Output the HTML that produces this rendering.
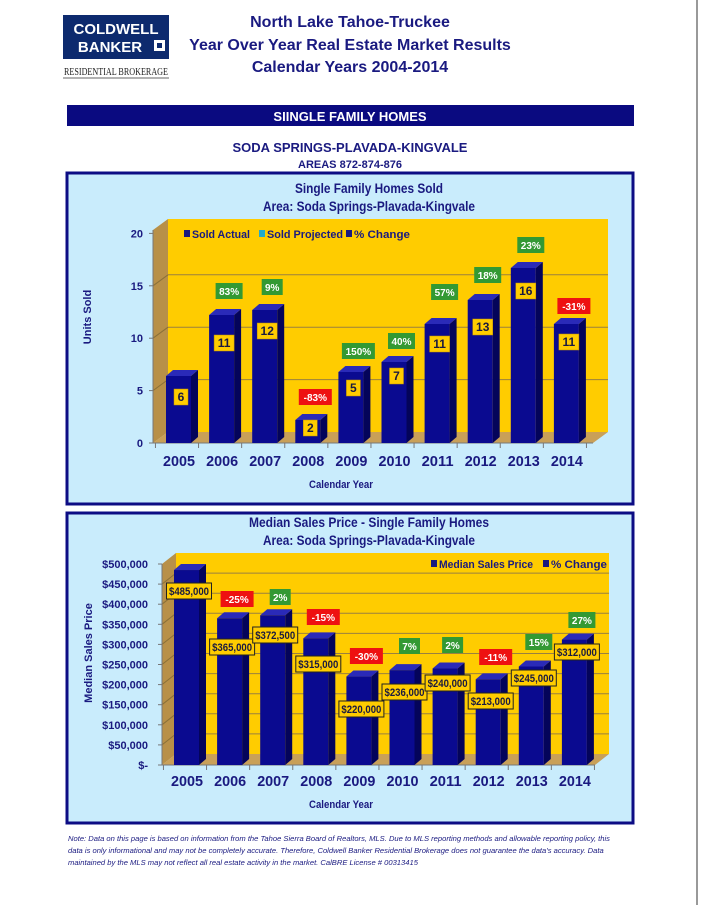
<!DOCTYPE html>
<html><head><meta charset="utf-8"><style>
html,body{margin:0;padding:0;background:#fff;width:701px;height:905px;overflow:hidden}
svg{display:block}
text{font-family:"Liberation Sans",sans-serif;font-weight:bold}
</style></head><body>
<svg id="s" width="701" height="905" viewBox="0 0 701 905" xmlns="http://www.w3.org/2000/svg">
<line x1="697" y1="0" x2="697" y2="905" stroke="#333" stroke-width="1"/>
<rect x="63" y="15" width="106" height="44" fill="#0d2a6e"/>
<text x="116" y="34" fill="#fff" font-size="15" text-anchor="middle" style="font-weight:900">COLDWELL</text>
<text x="110" y="52" fill="#fff" font-size="15" text-anchor="middle" style="font-weight:900">BANKER</text>
<rect x="154" y="40" width="11" height="11" fill="#fff"/><rect x="157" y="43" width="5" height="5" fill="#0d2a6e"/>
<text x="64" y="75" fill="#222" font-size="11" style="font-family:'Liberation Serif',serif;font-weight:normal" textLength="104" lengthAdjust="spacingAndGlyphs">RESIDENTIAL BROKERAGE</text>
<line x1="63" y1="78" x2="169" y2="78" stroke="#666" stroke-width="1"/>
<g fill="#1a1a80" font-size="16" text-anchor="middle">
<text x="350" y="27">North Lake Tahoe-Truckee</text>
<text x="350" y="50">Year Over Year Real Estate Market Results</text>
<text x="350" y="72">Calendar Years 2004-2014</text>
</g>
<rect x="67" y="105" width="567" height="21" fill="#0a0a80"/>
<text x="350" y="121" fill="#fff" font-size="13" text-anchor="middle">SIINGLE FAMILY HOMES</text>
<text x="350" y="152" fill="#1a1a80" font-size="13" text-anchor="middle">SODA SPRINGS-PLAVADA-KINGVALE</text>
<text x="350" y="168" fill="#1a1a80" font-size="11" text-anchor="middle">AREAS 872-874-876</text>
<g id="c1"></g><g id="c2"></g>
<g fill="#1a1a80" font-size="7.6">
<text x="68" y="841" style="font-weight:normal;font-style:italic">Note: Data on this page is based on information from the Tahoe Sierra Board of Realtors, MLS.  Due to MLS reporting methods and allowable reporting policy, this</text>
<text x="68" y="853" style="font-weight:normal;font-style:italic">data is only informational and may not be completely accurate.  Therefore, Coldwell Banker Residential Brokerage does not guarantee the data's accuracy.  Data</text>
<text x="68" y="865" style="font-weight:normal;font-style:italic">maintained by the MLS may not reflect all real estate activity in the market.  CalBRE License # 00313415</text>
</g>
</svg>
<script>
var NS="http://www.w3.org/2000/svg";
function el(p,t,a,txt){var e=document.createElementNS(NS,t);for(var k in a)e.setAttribute(k,a[k]);if(txt!=null)e.textContent=txt;p.appendChild(e);return e;}
var NAVY="#1a1a80";
function chart(g,o){
 el(g,"rect",{x:o.bx,y:o.by,width:o.bw,height:o.bh,fill:"#c9ecfc",stroke:"#0c0c84","stroke-width":3});
 var ax=o.ax,y0=o.y0,dx=o.wx-o.ax,dy=11,wr=o.wr,top=o.top;
 var fr=wr-dx;
 el(g,"polygon",{points:ax+","+(top+dy)+" "+o.wx+","+top+" "+o.wx+","+(y0-dy)+" "+ax+","+y0,fill:"#b89048"});
 el(g,"rect",{x:o.wx,y:top,width:wr-o.wx,height:y0-dy-top,fill:"#ffcc00"});
 el(g,"polygon",{points:ax+","+y0+" "+o.wx+","+(y0-dy)+" "+wr+","+(y0-dy)+" "+fr+","+y0,fill:"#c9a058"});
 for(var i=1;i<o.nt;i++){var yb=y0-dy-i*o.step,yf=y0-i*o.step;
  el(g,"line",{x1:o.wx,y1:yb,x2:wr,y2:yb,stroke:"#9a8040","stroke-width":1});
  el(g,"line",{x1:ax,y1:yf,x2:o.wx,y2:yb,stroke:"#8a7038","stroke-width":1});}
 el(g,"line",{x1:ax,y1:top+dy,x2:ax,y2:y0,stroke:"#777"});
 el(g,"line",{x1:ax,y1:y0,x2:fr,y2:y0,stroke:"#777"});
 for(var i=0;i<=o.nt;i++){var yf=y0-i*o.step;
  el(g,"line",{x1:ax-4,y1:yf,x2:ax,y2:yf,stroke:"#777"});
  el(g,"text",{x:o.lx,y:yf+4,"text-anchor":"end","font-size":o.lfs,fill:NAVY},o.lab(i));}
 for(var i=0;i<=10;i++){var x=o.c0-o.sp/2+i*o.sp;el(g,"line",{x1:x,y1:y0,x2:x,y2:y0+5,stroke:"#777"});}
 for(var i=0;i<10;i++){
  var c=o.c0+i*o.sp,x1=c-11,x2=c+14,t=o.tops[i];
  el(g,"polygon",{points:x2+","+t+" "+(x2+7)+","+(t-6)+" "+(x2+7)+","+(y0-6)+" "+x2+","+y0,fill:"#04045a"});
  el(g,"polygon",{points:x1+","+t+" "+(x1+7)+","+(t-6)+" "+(x2+7)+","+(t-6)+" "+x2+","+t,fill:"#2a2ab8"});
  el(g,"rect",{x:x1,y:t,width:x2-x1,height:y0-t,fill:"#0a0a90"});
  el(g,"text",{x:c+2,y:o.yl,"text-anchor":"middle","font-size":15,fill:NAVY,textLength:32,lengthAdjust:"spacingAndGlyphs"},2005+i);
  var v=o.vals[i];
  el(g,"rect",{x:c+4-v.w/2,y:v.y-8,width:v.w,height:16,fill:"#ffcc00",stroke:o.vb?"#222":"#c09000","stroke-width":o.vb?1:0.5});
  var ta={x:c+4,y:v.y+4,"text-anchor":"middle","font-size":o.vfs,fill:"#1a1a40"};
  if(o.vb){ta.textLength=v.w-5;ta.lengthAdjust="spacingAndGlyphs";}
  el(g,"text",ta,v.t);
  var p=o.pcts[i];
  if(p){el(g,"rect",{x:c+9-p.w/2,y:p.y-8,width:p.w,height:16,fill:p.r?"#ee1111":"#339933"});
   el(g,"text",{x:c+9,y:p.y+4,"text-anchor":"middle","font-size":10,fill:"#fff"},p.t);}
 }
 el(g,"text",{x:369,y:o.ty,"text-anchor":"middle","font-size":14,fill:NAVY,textLength:o.tl1,lengthAdjust:"spacingAndGlyphs"},o.t1);
 el(g,"text",{x:369,y:o.ty+18,"text-anchor":"middle","font-size":14,fill:NAVY,textLength:212,lengthAdjust:"spacingAndGlyphs"},o.t2);
 el(g,"text",{x:341,y:o.yl+22,"text-anchor":"middle","font-size":11,fill:NAVY,textLength:64,lengthAdjust:"spacingAndGlyphs"},"Calendar Year");
 el(g,"text",{x:0,y:0,"text-anchor":"middle","font-size":11,fill:NAVY,transform:"translate("+o.yax+","+o.yay+") rotate(-90)"},o.ytitle);
 o.leg.forEach(function(L){el(g,"rect",{x:L[0],y:L[1]-8,width:6,height:7,fill:L[3]});el(g,"text",{x:L[0]+8,y:L[1],"font-size":11,fill:NAVY,textLength:L[4],lengthAdjust:"spacingAndGlyphs"},L[2]);});
}
function pc(t,y,r){return {t:t,y:y,r:r,w:t.length*6+9};}
chart(document.getElementById("c1"),{bx:67,by:173,bw:566,bh:331,ax:153,wx:168,wr:608,top:219,y0:443,step:52.4,nt:4,
 lx:143,lfs:11,lab:function(i){return String(i*5);},c0:177,sp:43.1,yl:466,vfs:12,vb:false,
 tops:[376,315,310,420,372,362,324,300,268,324],
 vals:[[397,"6"],[343,"11"],[331,"12"],[428,"2"],[388,"5"],[376,"7"],[344,"11"],[327,"13"],[291,"16"],[342,"11"]].map(function(a){return {y:a[0],t:a[1],w:a[1].length>1?20:14};}),
 pcts:[null,pc("83%",291),pc("9%",287),pc("-83%",397,1),pc("150%",351),pc("40%",341),pc("57%",292),pc("18%",275),pc("23%",245),pc("-31%",306,1)],
 t1:"Single Family Homes Sold",tl1:148,t2:"Area: Soda Springs-Plavada-Kingvale",ty:193,ytitle:"Units Sold",yax:91,yay:317,
 leg:[[184,238,"Sold Actual",NAVY,58],[259,238,"Sold Projected","#22aacc",76],[346,238,"% Change",NAVY,56]]});
var P=[485000,365000,372500,315000,220000,236000,240000,213000,245000,312000];
chart(document.getElementById("c2"),{bx:67,by:513,bw:566,bh:310,ax:162,wx:176,wr:609,top:553,y0:765,step:20.1,nt:10,
 lx:148,lfs:11,lab:function(i){return i==0?"$-":"$"+(i*50)+",000";},c0:185,sp:43.1,yl:786,vfs:11,vb:true,
 tops:P.map(function(v){return 765-v*0.000402;}),
 vals:[[591],[647],[635],[664],[709],[692],[683],[701],[678],[652]].map(function(a,i){var s=P[i].toString();return {y:a[0],t:"$"+s.slice(0,3)+","+s.slice(3),w:45};}),
 pcts:[null,pc("-25%",599,1),pc("2%",597),pc("-15%",617,1),pc("-30%",656,1),pc("7%",646),pc("2%",645),pc("-11%",657,1),pc("15%",642),pc("27%",620)],
 t1:"Median Sales Price - Single Family Homes",tl1:240,t2:"Area: Soda Springs-Plavada-Kingvale",ty:527,ytitle:"Median Sales Price",yax:92,yay:653,
 leg:[[431,568,"Median Sales Price",NAVY,94],[543,568,"% Change",NAVY,56]]});
</script>
</body></html>
